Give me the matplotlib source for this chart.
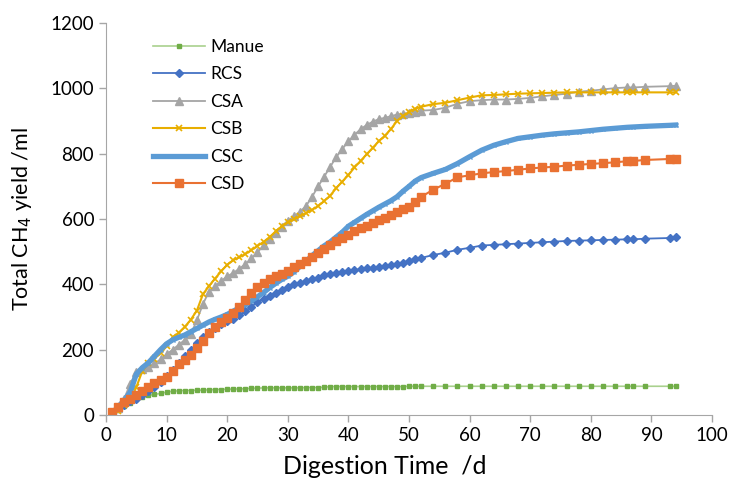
import matplotlib
matplotlib.use("Agg")
import matplotlib.pyplot as plt

plt.rcParams['font.family'] = ['Lato', 'DejaVu Sans']

# digestion days (daily to day 52, then every 2nd day)
days = [1, 2, 3, 4, 5, 6, 7, 8, 9, 10, 11, 12, 13, 14, 15, 16, 17, 18, 19, 20,
        21, 22, 23, 24, 25, 26, 27, 28, 29, 30, 31, 32, 33, 34, 35, 36, 37, 38, 39, 40,
        41, 42, 43, 44, 45, 46, 47, 48, 49, 50, 51, 52,
        54, 56, 58, 60, 62, 64, 66, 68, 70, 72, 74, 76, 78, 80, 82, 84, 86, 87, 89, 93, 94]

manue = [5, 15, 28, 38, 48, 55, 60, 63, 66, 70, 73, 74, 75, 75, 76, 76, 77, 78, 78, 79,
         79, 80, 80, 82, 82, 83, 83, 83, 83, 83, 83, 83, 84, 84, 84, 85, 87, 87, 87, 87,
         87, 87, 87, 87, 87, 87, 87, 87, 87, 88, 88, 88,
         88, 88, 88, 88, 88, 88, 88, 88, 88, 88, 88, 88, 88, 88, 88, 88, 88, 88, 88, 88, 88]

rcs = [8, 20, 32, 42, 50, 60, 72, 85, 100, 118, 138, 158, 180, 198, 220, 240, 255, 265, 278, 288,
       295, 305, 318, 332, 345, 355, 365, 375, 383, 392, 400, 405, 410, 416, 421, 428, 432, 436, 439, 442,
       444, 446, 449, 451, 454, 457, 460, 463, 467, 472, 477, 481,
       490, 497, 506, 512, 519, 521, 523, 525, 527, 529, 531, 533, 534, 535, 536, 537, 538, 538, 540, 542, 545]

csa = [5, 20, 50, 95, 133, 140, 148, 158, 170, 186, 200, 215, 230, 248, 290, 340, 378, 395, 410, 425,
       435, 448, 462, 480, 498, 520, 540, 558, 575, 595, 608, 622, 640, 668, 700, 730, 760, 790, 815, 838,
       858, 875, 888, 898, 906, 910, 915, 920, 922, 925, 929, 932,
       934, 941, 953, 961, 964, 966, 966, 968, 971, 976, 980, 984, 990, 993, 997, 1001, 1003, 1003, 1005, 1007, 1008]

csb = [0, 12, 30, 45, 85, 135, 158, 172, 190, 210, 238, 252, 270, 292, 320, 370, 395, 418, 440, 460,
       474, 483, 493, 505, 518, 530, 545, 562, 578, 590, 600, 608, 618, 628, 640, 655, 672, 695, 715, 735,
       758, 778, 798, 818, 838, 855, 875, 900, 915, 928, 938, 944,
       952, 956, 964, 972, 979, 980, 982, 984, 985, 986, 987, 988, 988, 988, 988, 988, 988, 988, 988, 988, 988]

csc = [5, 25, 45, 70, 125, 145, 160, 180, 200, 218, 230, 238, 245, 255, 265, 275, 285, 293, 300, 308,
       318, 328, 338, 350, 362, 375, 390, 403, 415, 425, 438, 455, 470, 488, 503, 518, 530, 545, 560, 578,
       590, 602, 614, 625, 636, 646, 656, 668, 685, 700, 716, 727,
       740, 752, 770, 791, 811, 826, 837, 847, 852, 857, 861, 864, 867, 871, 875, 878, 881, 882, 884, 887, 888]

csd = [8, 25, 40, 50, 62, 72, 87, 97, 108, 117, 135, 155, 168, 184, 204, 228, 250, 268, 285, 298,
       312, 330, 352, 375, 392, 405, 415, 425, 433, 442, 452, 462, 472, 483, 495, 508, 520, 532, 542, 552,
       562, 572, 580, 588, 596, 604, 612, 622, 630, 638, 653, 668,
       690, 708, 728, 734, 740, 744, 747, 751, 755, 758, 760, 764, 766, 769, 771, 774, 777, 778, 781, 784, 785]

fig = plt.figure(figsize=(7.31, 4.82), dpi=100)
ax = fig.add_axes([0.145, 0.139, 0.829, 0.813])

ax.plot(days, manue, color='#A9D18E', lw=1.2, marker='s', ms=2.5,
        mfc='#70AD47', mec='#70AD47', label='Manue')
ax.plot(days, rcs, color='#4472C4', lw=1.3, marker='D', ms=4,
        mfc='#4472C4', mec='#4472C4', label='RCS')
ax.plot(days, csa, color='#A5A5A5', lw=1.3, marker='^', ms=5.5,
        mfc='#A5A5A5', mec='#A5A5A5', label='CSA')
ax.plot(days, csb, color='#E8AE00', lw=1.5, marker='x', ms=4.5, mew=1.2,
        mec='#E8AE00', label='CSB')
ax.plot(days, csc, color='#5B9BD5', lw=3.8, marker='x', ms=3,
        mec='#5B9BD5', label='CSC')
ax.plot(days, csd, color='#E97132', lw=1.5, marker='s', ms=6,
        mfc='#E97132', mec='#E97132', label='CSD')

ax.set_xlim(0, 100)
ax.set_ylim(0, 1200)
ax.set_xticks(range(0, 101, 10))
ax.set_yticks(range(0, 1201, 200))
ax.tick_params(labelsize=13.5, color='#A6A6A6', length=5, width=1, direction='out')
for s in ['top', 'right']:
    ax.spines[s].set_visible(False)
for s in ['left', 'bottom']:
    ax.spines[s].set_color('#A6A6A6')

ax.set_xlabel('Digestion Time  /d', fontsize=18)
ax.xaxis.set_label_coords(0.46, -0.102)
ax.set_ylabel('Total CH$_4$ yield /ml', fontsize=15.5)
ax.yaxis.set_label_coords(-0.118, 0.5)

ax.legend(loc='upper left', bbox_to_anchor=(0.052, 1.0), frameon=False,
          fontsize=12.5, labelspacing=0.66, handlelength=3.0, handletextpad=0.3)

fig.savefig('out.png', dpi=100)
